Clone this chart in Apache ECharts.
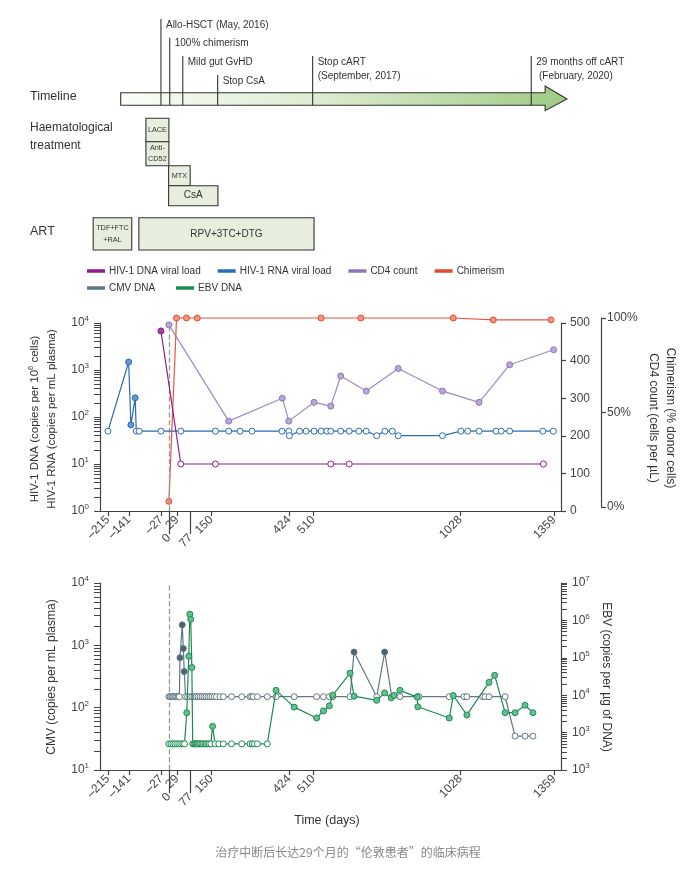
<!DOCTYPE html>
<html><head><meta charset="utf-8">
<script src="https://cdn.jsdelivr.net/npm/echarts@6/dist/echarts.min.js"></script>
<style>html,body{margin:0;padding:0;background:#fff}#c{width:696px;height:879px}</style>
</head><body><div id="c"></div>
<script>
// ================= DATA =================
const xTickValues = [-215, -141, -27, 29, 150, 424, 510, 1028, 1359];
const xTickValuesLow = [0, 77];

const hivAxisExponents = [0, 1, 2, 3, 4];
const cd4AxisTicks = [0, 100, 200, 300, 400, 500];
const chimAxisTicks = [0, 50, 100];
const cmvAxisExponents = [1, 2, 3, 4];
const ebvAxisExponentLabels = ['3', '3', '4', '5', '6', '7']; // as printed, at 10^2 ... 10^7

// HIV-1 DNA viral load (copies per 10^6 cells)
const dnaDays = [-28, 42, 164, 571, 636, 1321];
const dnaValues = [6760, 10, 10, 10, 10, 10];
const dnaDetected = [1, 0, 0, 0, 0, 0];

// HIV-1 RNA viral load (copies per mL plasma)
const rnaDays = [-215, -142, -134, -119, -115, -105, -28, 42, 164, 211, 251, 293, 399, 423, 425, 461, 484, 512, 537, 557, 571, 606, 636, 670, 696, 733, 762, 788, 809, 965, 1030, 1054, 1094, 1154, 1172, 1202, 1319, 1356];
const rnaValues = [50, 1480, 68, 256, 50, 50, 50, 50, 50, 50, 50, 50, 50, 50, 40, 50, 50, 50, 50, 50, 50, 50, 50, 50, 50, 40, 50, 50, 40, 40, 50, 50, 50, 50, 50, 50, 50, 50];
const rnaDetected = [0, 1, 1, 1, 0, 0, 0, 0, 0, 0, 0, 0, 0, 0, 0, 0, 0, 0, 0, 0, 0, 0, 0, 0, 0, 0, 0, 0, 0, 0, 0, 0, 0, 0, 0, 0, 0, 0];

// annotations under the RNA dips
const rnaNoteDays = [413, 684, 805, 964];
const rnaNoteValues = [20.5, 20.5, 20.5, 20.5];
const rnaNoteTexts = ['<1·3', '<0·9', '<0·8', '<0·8'];

// CD4 count (cells per uL)
const cd4Days = [0, 211, 400, 423, 512, 571, 606, 696, 809, 965, 1094, 1202, 1357];
const cd4Values = [495, 239, 300, 239, 289, 279, 359, 319, 379, 319, 289, 389, 429];

// Chimerism (% donor cells)
const chimDays = [0, 27, 62, 100, 537, 677, 1003, 1144, 1348];
const chimValues = [3, 100, 100, 100, 100, 100, 100, 99, 99];

// CMV DNA (copies per mL plasma)
const cmvDays = [0, 5, 10, 14, 19, 24, 28, 33, 37, 39, 47, 51, 54, 59, 66, 74, 81, 88, 96, 103, 110, 117, 124, 131, 138, 145, 152, 160, 168, 180, 192, 221, 257, 286, 292, 298, 312, 347, 378, 442, 521, 545, 566, 578, 639, 653, 733, 761, 786, 815, 876, 882, 989, 1041, 1051, 1107, 1115, 1129, 1186, 1221, 1256, 1284];
const cmvValues = [150, 150, 150, 150, 150, 150, 150, 150, 150, 632, 2130, 890, 380, 150, 150, 150, 150, 150, 150, 150, 150, 150, 150, 150, 150, 150, 150, 150, 150, 150, 150, 150, 150, 150, 150, 150, 150, 150, 150, 150, 150, 150, 150, 150, 150, 780, 150, 780, 150, 150, 150, 150, 150, 150, 150, 150, 150, 150, 150, 35, 35, 35];
const cmvDetected = [0, 0, 0, 0, 0, 0, 0, 0, 0, 1, 1, 1, 1, 0, 0, 0, 0, 0, 0, 0, 0, 0, 0, 0, 0, 0, 0, 0, 0, 0, 0, 0, 0, 0, 0, 0, 0, 0, 0, 0, 0, 0, 0, 0, 0, 1, 0, 1, 0, 0, 0, 0, 0, 0, 0, 0, 0, 0, 0, 0, 0, 0];

// EBV DNA (copies per ug of DNA)
const ebvDays = [0, 7, 14, 21, 28, 35, 42, 49, 55, 63, 70, 74, 77, 81, 84, 88, 92, 96, 100, 104, 108, 112, 117, 122, 127, 132, 137, 142, 148, 154, 163, 176, 192, 221, 257, 286, 294, 301, 312, 347, 378, 442, 521, 545, 566, 578, 639, 653, 733, 761, 784, 794, 815, 876, 878, 989, 1003, 1051, 1129, 1149, 1186, 1221, 1256, 1284];
const ebvValues = [500, 500, 500, 500, 500, 500, 500, 500, 500, 3400, 110000, 1470000, 1070000, 55000, 500, 500, 500, 500, 500, 500, 500, 500, 500, 500, 500, 500, 500, 500, 500, 1470, 500, 500, 500, 500, 500, 500, 500, 500, 500, 500, 13500, 4800, 2460, 3800, 5200, 10000, 39000, 9400, 7300, 11500, 8500, 9800, 13500, 8900, 4900, 2450, 9800, 2970, 22000, 34000, 3400, 3400, 5400, 3400];
const ebvDetected = [0, 0, 0, 0, 0, 0, 0, 0, 0, 1, 1, 1, 1, 1, 0, 0, 0, 0, 0, 0, 0, 0, 0, 0, 0, 0, 0, 0, 0, 1, 0, 0, 0, 0, 0, 0, 0, 0, 0, 0, 1, 1, 1, 1, 1, 1, 1, 1, 1, 1, 1, 1, 1, 1, 1, 1, 1, 1, 1, 1, 1, 1, 1, 1];

// Timeline schematic (positions, in day units of the chart axis)
const eventDays = [-28, 3, 49, 172, 507, 1278];
const eventLabels = ['Allo-HSCT (May, 2016)', '100% chimerism', 'Mild gut GvHD', 'Stop CsA', 'Stop cART\n(September, 2017)', '29 months off cART\n (February, 2020)'];
const eventLevels = [0, 1, 2, 3, 2, 2];
const arrowSpan = [-170, 1327, 1404];
const boxLabels = ['LACE', 'Anti-\nCD52', 'MTX', 'CsA', 'TDF+FTC\n+RAL', 'RPV+3TC+DTG'];
const boxStart = [-81, -81, -1, -1, -267, -106];
const boxEnd = [0, 0, 75, 173, -131, 512];
const boxRows = [0, 1, 2, 3, 4, 4];

// ================= LAYOUT / STYLE =================
const FONT = '"Liberation Sans",Arial,sans-serif';
const AX = '#444';
const X_MIN = -243, X_MAX = 1383;
const GL = 100, GW = 461;
const TL = {
  arrowTop: 92.7, arrowBot: 105.3, headTop: 86, headBot: 110.7,
  levelTop: [19, 37.7, 56, 75],
  rowBands: [[118.3, 141.7], [141.7, 165.7], [165.7, 185.7], [185.7, 205.7], [217.7, 250]]
};
const C = {
  dna: '#8d1e86', dnaFill: '#a0449a',
  rna: '#2c6bb3', rnaFill: '#6c94d2',
  cd4: '#9c89c9', cd4Fill: '#b9a7da',
  chim: '#e8553f', chimFill: '#f39480',
  cmv: '#627783', cmvFill: '#4d6370',
  ebv: '#1b8b50', ebvFill: '#66bf91'
};

function logTicks(a, b) {
  const t = [];
  for (let k = a; k < b; k++) for (let m = 1; m < 10; m++) t.push(k + Math.log10(m));
  t.push(b);
  return t;
}
const supRich = {
  b: { fontSize: 12, color: AX, fontFamily: FONT, lineHeight: 16 },
  s: { fontSize: 8, color: AX, fontFamily: FONT, verticalAlign: 'top', lineHeight: 10 }
};
function pts(days, vals, det, fill, log) {
  return days.map((d, i) => ({
    value: [d, log ? Math.log10(vals[i]) : vals[i]],
    itemStyle: { color: (det === null || det[i]) ? fill : '#fff' }
  }));
}
function lineSeries(name, color, xi, yi, data, z) {
  return {
    type: 'line', name, xAxisIndex: xi, yAxisIndex: yi, data,
    symbol: 'circle', symbolSize: 6, showAllSymbol: true, clip: false,
    lineStyle: { color, width: 1.2 },
    itemStyle: { color, borderColor: color, borderWidth: 1 },
    emphasis: { disabled: true }, z
  };
}
const xFmt = v => (v < 0 ? '–' + Math.abs(v) : String(v));
function xMain(gi) {
  return {
    type: 'value', gridIndex: gi, min: X_MIN, max: X_MAX, position: 'bottom',
    axisLine: { show: true, onZero: false, lineStyle: { color: AX, width: 1.2 } },
    axisTick: { show: true, customValues: xTickValues, length: 5, lineStyle: { color: AX, width: 1.2 } },
    axisLabel: { customValues: xTickValues, formatter: xFmt, rotate: 45, margin: 7, color: AX, fontSize: 12, fontFamily: FONT },
    splitLine: { show: false }
  };
}
function xLow(gi) {
  return {
    type: 'value', gridIndex: gi, min: X_MIN, max: X_MAX, position: 'bottom',
    axisLine: { show: false, onZero: false },
    axisTick: { show: true, customValues: xTickValuesLow, length: 23, lineStyle: { color: AX, width: 1.2 } },
    axisLabel: { customValues: xTickValuesLow, formatter: xFmt, rotate: 45, margin: 25, color: AX, fontSize: 12, fontFamily: FONT },
    splitLine: { show: false }
  };
}
function hiddenX(gi) {
  return { type: 'value', gridIndex: gi, min: X_MIN, max: X_MAX, show: false, axisLine: { onZero: false } };
}
function logY(gi, pos, a, b, labelFn) {
  return {
    type: 'value', gridIndex: gi, position: pos, min: a, max: b,
    axisLine: { show: true, onZero: false, lineStyle: { color: AX, width: 1.2 } },
    axisTick: { show: true, customValues: logTicks(a, b), length: 6, lineStyle: { color: AX, width: 1 } },
    axisLabel: {
      customValues: Array.from({ length: b - a + 1 }, (_, i) => a + i),
      margin: 11, formatter: v => '{b|10}{s|' + labelFn(v) + '}', rich: supRich
    },
    splitLine: { show: false }
  };
}

const chart = echarts.init(document.getElementById('c'), null, { renderer: 'canvas' });

const legendText = { fontSize: 10, color: '#333', fontFamily: FONT };
const option = {
  animation: false,
  textStyle: { fontFamily: FONT },
  grid: [
    { left: GL, top: 323, width: GW, height: 188 },   // HIV plot
    { left: GL, top: 318, width: GW, height: 189 },   // chimerism scale
    { left: GL, top: 583, width: GW, height: 187 },   // CMV/EBV plot
    { left: GL, top: 0, width: GW, height: 260 }      // timeline schematic
  ],
  legend: [
    {
      data: ['HIV-1 DNA viral load', 'HIV-1 RNA viral load', 'CD4 count', 'Chimerism'],
      left: 87, top: 266, padding: 0, icon: 'rect', itemWidth: 16, itemHeight: 1.5, itemGap: 17, itemTextGap: 4,
      textStyle: legendText, selectedMode: false
    },
    {
      data: ['CMV DNA', 'EBV DNA'],
      left: 87, top: 283, padding: 0, icon: 'rect', itemWidth: 16, itemHeight: 1.5, itemGap: 21, itemTextGap: 4,
      textStyle: legendText, selectedMode: false
    }
  ],
  xAxis: [xMain(0), xLow(0), hiddenX(1), xMain(2), xLow(2), hiddenX(3)],
  yAxis: [
    logY(0, 'left', 0, 4, v => hivAxisExponents[Math.round(v)]),
    {
      type: 'value', gridIndex: 0, position: 'right', min: 0, max: 500, interval: 100,
      axisLine: { show: true, onZero: false, lineStyle: { color: AX, width: 1.2 } },
      axisTick: { show: true, customValues: cd4AxisTicks, length: 5, lineStyle: { color: AX, width: 1.2 } },
      axisLabel: { customValues: cd4AxisTicks, margin: 9, color: AX, fontSize: 12, fontFamily: FONT },
      splitLine: { show: false }
    },
    {
      type: 'value', gridIndex: 1, position: 'right', offset: 40, min: 0, max: 100,
      axisLine: { show: true, onZero: false, lineStyle: { color: AX, width: 1.2 } },
      axisTick: { show: true, customValues: chimAxisTicks, length: 5, lineStyle: { color: AX, width: 1.2 } },
      axisLabel: { customValues: chimAxisTicks, margin: 6, formatter: v => v + '%', color: AX, fontSize: 12, fontFamily: FONT },
      splitLine: { show: false }
    },
    logY(2, 'left', 1, 4, v => cmvAxisExponents[Math.round(v) - 1]),
    logY(2, 'right', 2, 7, v => ebvAxisExponentLabels[Math.round(v) - 2]),
    { type: 'value', gridIndex: 3, min: 0, max: 260, inverse: true, show: false, axisLine: { onZero: false } }
  ],
  series: [
    // ---- timeline schematic ----
    {
      type: 'custom', xAxisIndex: 5, yAxisIndex: 5, silent: true, z: 1,
      data: [arrowSpan],
      renderItem: (p, api) => {
        const x0 = api.coord([api.value(0), 0])[0];
        const x1 = api.coord([api.value(1), 0])[0];
        const x2 = api.coord([api.value(2), 0])[0];
        const yT = api.coord([0, TL.arrowTop])[1], yB = api.coord([0, TL.arrowBot])[1];
        const hT = api.coord([0, TL.headTop])[1], hB = api.coord([0, TL.headBot])[1];
        return {
          type: 'polygon',
          shape: { points: [[x0, yT], [x1, yT], [x1, hT], [x2, (yT + yB) / 2], [x1, hB], [x1, yB], [x0, yB]] },
          style: {
            fill: new echarts.graphic.LinearGradient(0, 0, 1, 0, [
              { offset: 0, color: '#fbfdf8' }, { offset: 0.45, color: '#dcebd0' }, { offset: 1, color: '#9fca84' }
            ]),
            stroke: '#333', lineWidth: 1.1
          }
        };
      }
    },
    {
      type: 'custom', xAxisIndex: 5, yAxisIndex: 5, silent: true, z: 2,
      data: eventDays.map((d, i) => [d, i]),
      renderItem: (p, api) => {
        const i = api.value(1);
        const x = api.coord([api.value(0), 0])[0];
        const yTop = api.coord([0, TL.levelTop[eventLevels[i]]])[1];
        const yBot = api.coord([0, TL.arrowBot])[1];
        return {
          type: 'group', children: [
            { type: 'line', shape: { x1: x, y1: yTop, x2: x, y2: yBot }, style: { stroke: '#333', lineWidth: 1.1 } },
            { type: 'text', x: x + 5, y: yTop - 1, style: { text: eventLabels[i], fill: '#333', font: '10px ' + FONT, lineHeight: 14, verticalAlign: 'top' } }
          ]
        };
      }
    },
    {
      type: 'custom', xAxisIndex: 5, yAxisIndex: 5, silent: true, z: 2,
      data: boxStart.map((s, i) => [s, boxEnd[i], i]),
      renderItem: (p, api) => {
        const i = api.value(2);
        const band = TL.rowBands[boxRows[i]];
        const a = api.coord([api.value(0), band[0]]);
        const b = api.coord([api.value(1), band[1]]);
        const w = b[0] - a[0], h = b[1] - a[1];
        const fs = w < 45 ? 7.3 : 10;
        return {
          type: 'group', children: [
            { type: 'rect', shape: { x: a[0], y: a[1], width: w, height: h }, style: { fill: '#e7eedd', stroke: '#333', lineWidth: 1.1 } },
            { type: 'text', x: a[0] + w / 2, y: a[1] + h / 2, style: { text: boxLabels[i], align: 'center', verticalAlign: 'middle', font: fs + 'px ' + FONT, fill: '#333', lineHeight: fs + 4 } }
          ]
        };
      }
    },
    // ---- HIV plot ----
    Object.assign(lineSeries('HIV-1 RNA viral load', C.rna, 0, 0, pts(rnaDays, rnaValues, rnaDetected, C.rnaFill, true), 5), {
      markLine: {
        silent: true, symbol: ['none', 'none'], label: { show: false },
        lineStyle: { type: 'dashed', color: '#999', width: 1.3 }, data: [{ xAxis: 0 }]
      }
    }),
    lineSeries('HIV-1 DNA viral load', C.dna, 0, 0, pts(dnaDays, dnaValues, dnaDetected, C.dnaFill, true), 6),
    Object.assign(lineSeries('CD4 count', C.cd4, 0, 1, pts(cd4Days, cd4Values, null, C.cd4Fill, false), 4), {
      itemStyle: { color: C.cd4, borderColor: '#8a77b8', borderWidth: 1 }
    }),
    Object.assign(lineSeries('Chimerism', C.chim, 2, 2, pts(chimDays, chimValues, null, C.chimFill, false), 4), {
      itemStyle: { color: C.chim, borderColor: '#e04b33', borderWidth: 1 }
    }),
    {
      type: 'scatter', name: 'notes', xAxisIndex: 0, yAxisIndex: 0, silent: true,
      data: rnaNoteDays.map((d, i) => [d, Math.log10(rnaNoteValues[i])]),
      symbolSize: 1, itemStyle: { opacity: 0 },
      label: { show: true, position: 'inside', formatter: p => rnaNoteTexts[p.dataIndex], color: '#333', fontSize: 11, fontFamily: FONT }
    },
    // ---- CMV / EBV plot ----
    Object.assign(lineSeries('CMV DNA', C.cmv, 3, 3, pts(cmvDays, cmvValues, cmvDetected, C.cmvFill, true), 5), {
      markLine: {
        silent: true, symbol: ['none', 'none'], label: { show: false },
        lineStyle: { type: 'dashed', color: '#999', width: 1.3 }, data: [{ xAxis: 0 }]
      }
    }),
    Object.assign(lineSeries('EBV DNA', C.ebv, 3, 4, pts(ebvDays, ebvValues, ebvDetected, C.ebvFill, true), 6), {
      itemStyle: { color: C.ebv, borderColor: C.ebv, borderWidth: 1 }
    })
  ],
  graphic: [
    { type: 'text', x: 30, y: 97, style: { text: 'Timeline', fill: '#333', font: '12.5px ' + FONT, verticalAlign: 'middle' } },
    { type: 'text', x: 30, y: 137, style: { text: 'Haematological\ntreatment', fill: '#333', font: '12px ' + FONT, lineHeight: 18, verticalAlign: 'middle' } },
    { type: 'text', x: 30, y: 232, style: { text: 'ART', fill: '#333', font: '12.5px ' + FONT, verticalAlign: 'middle' } },
    {
      type: 'text', x: 43.5, y: 419, rotation: Math.PI / 2,
      style: {
        text: '{t|HIV-1 DNA (copies per 10}{u|6}{t| cells)}\n{t|HIV-1 RNA (copies per mL plasma)}',
        align: 'center', verticalAlign: 'middle',
        rich: {
          t: { fontSize: 11.5, fill: '#333', fontFamily: FONT, lineHeight: 17 },
          u: { fontSize: 7.5, fill: '#333', fontFamily: FONT, verticalAlign: 'top', lineHeight: 11 }
        }
      }
    },
    {
      type: 'text', x: 661.5, y: 418, rotation: -Math.PI / 2,
      style: { text: 'Chimerism (% donor cells)\nCD4 count (cells per µL)', fill: '#333', font: '12px ' + FONT, lineHeight: 17, align: 'center', verticalAlign: 'middle' }
    },
    {
      type: 'text', x: 51.7, y: 677, rotation: Math.PI / 2,
      style: { text: 'CMV (copies per mL plasma)', fill: '#333', font: '12px ' + FONT, align: 'center', verticalAlign: 'middle' }
    },
    {
      type: 'text', x: 606.7, y: 677, rotation: -Math.PI / 2,
      style: { text: 'EBV (copies per µg of DNA)', fill: '#333', font: '12px ' + FONT, align: 'center', verticalAlign: 'middle' }
    },
    { type: 'text', x: 327, y: 821, style: { text: 'Time (days)', fill: '#333', font: '12.5px ' + FONT, align: 'center', verticalAlign: 'middle' } },
    { type: 'text', x: 348, y: 852, style: { text: '治疗中断后长达29个月的“伦敦患者”的临床病程', fill: '#888', font: '12px "Noto Sans CJK SC"', align: 'center', verticalAlign: 'middle' } }
  ]
};
chart.setOption(option);
</script>
</body></html>
